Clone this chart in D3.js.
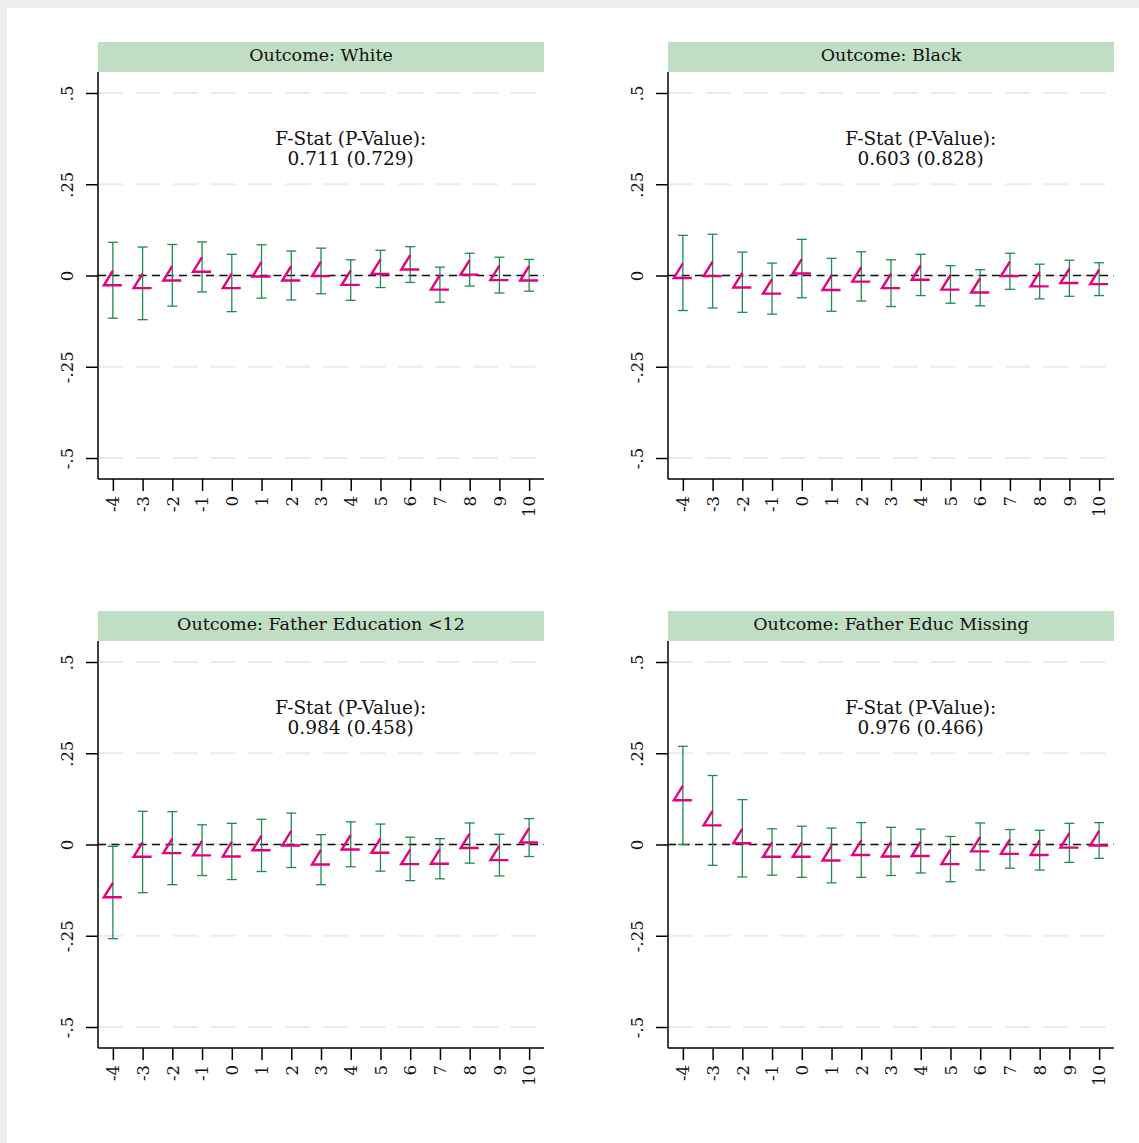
<!DOCTYPE html>
<html><head><meta charset="utf-8">
<script src="https://cdn.jsdelivr.net/npm/d3@7"></script>
<style>
html,body{margin:0;padding:0;background:#fff;}
svg{display:block;}
text{font-family:"DejaVu Serif","Liberation Serif",serif;fill:#111;}
</style></head><body>
<script>
// ---- data ----
const periods = [-4,-3,-2,-1,0,1,2,3,4,5,6,7,8,9,10];
const yTicks = [-0.5,-0.25,0,0.25,0.5];
const yTickLabels = ["-.5","-.25","0",".25",".5"];
const titles = ["Outcome: White","Outcome: Black","Outcome: Father Education <12","Outcome: Father Educ Missing"];
const fstatLabels = ["0.711 (0.729)","0.603 (0.828)","0.984 (0.458)","0.976 (0.466)"];

const whiteCoef = [-0.013,-0.021,0.000,0.024,-0.021,0.011,0.000,0.012,-0.012,0.018,0.030,-0.025,0.016,0.001,0.000];
const whiteLo   = [-0.117,-0.121,-0.084,-0.045,-0.099,-0.062,-0.067,-0.050,-0.068,-0.033,-0.019,-0.073,-0.029,-0.048,-0.043];
const whiteHi   = [0.091,0.078,0.085,0.092,0.058,0.084,0.067,0.075,0.043,0.069,0.079,0.023,0.061,0.050,0.044];

const blackCoef = [0.007,0.012,-0.019,-0.036,0.019,-0.026,-0.003,-0.021,0.002,-0.025,-0.033,0.012,-0.016,-0.007,-0.010];
const blackLo   = [-0.096,-0.089,-0.101,-0.106,-0.061,-0.098,-0.070,-0.085,-0.055,-0.076,-0.083,-0.038,-0.064,-0.057,-0.055];
const blackHi   = [0.110,0.113,0.064,0.034,0.099,0.047,0.065,0.043,0.058,0.027,0.016,0.061,0.031,0.042,0.035];

const fedCoef = [-0.131,-0.020,-0.010,-0.016,-0.019,-0.002,0.011,-0.041,0.000,-0.009,-0.040,-0.039,0.004,-0.029,0.019];
const fedLo   = [-0.258,-0.132,-0.110,-0.085,-0.096,-0.074,-0.063,-0.110,-0.061,-0.073,-0.099,-0.094,-0.051,-0.086,-0.033];
const fedHi   = [-0.005,0.091,0.090,0.054,0.058,0.069,0.086,0.027,0.062,0.056,0.020,0.016,0.059,0.028,0.071];

const fmisCoef = [0.135,0.066,0.017,-0.020,-0.020,-0.030,-0.015,-0.019,-0.018,-0.040,-0.005,-0.012,-0.015,0.005,0.011];
const fmisLo   = [0.000,-0.057,-0.089,-0.084,-0.090,-0.105,-0.090,-0.085,-0.078,-0.102,-0.070,-0.065,-0.070,-0.049,-0.038];
const fmisHi   = [0.269,0.189,0.123,0.043,0.050,0.045,0.060,0.047,0.042,0.022,0.059,0.041,0.039,0.058,0.060];

const panels = [
  {title:titles[0], f:fstatLabels[0], coef:whiteCoef, lo:whiteLo, hi:whiteHi},
  {title:titles[1], f:fstatLabels[1], coef:blackCoef, lo:blackLo, hi:blackHi},
  {title:titles[2], f:fstatLabels[2], coef:fedCoef, lo:fedLo, hi:fedHi},
  {title:titles[3], f:fstatLabels[3], coef:fmisCoef, lo:fmisLo, hi:fmisHi}
];

// ---- layout ----
const W = 1139, H = 1143;
const svg = d3.select("body").append("svg").attr("width",W).attr("height",H);
svg.append("rect").attr("width",W).attr("height",H).attr("fill","#efefef");
svg.append("rect").attr("x",7).attr("y",8).attr("width",W-7).attr("height",H-8).attr("fill","#fff");

const GREEN = "#1e8c4c", MAG = "#e6007e", HEAD = "#c0dec3";
const pw = 446, ph = 407;
const origins = [[98,72],[668,72],[98,641],[668,641]];

panels.forEach((p,i)=>{
  const [ox,oy] = origins[i];
  const g = svg.append("g").attr("transform",`translate(${ox},${oy})`);
  const x = d3.scaleLinear().domain([-4.5,10.5]).range([0,pw]);
  const y = d3.scaleLinear().domain([-0.5575,0.5575]).range([ph,0]);

  // header
  g.append("rect").attr("x",0).attr("y",-30).attr("width",pw).attr("height",30).attr("fill",HEAD);
  g.append("text").attr("x",pw/2).attr("y",-11).attr("text-anchor","middle")
    .style("font-size","17.5px").text(p.title);

  // gridlines
  g.append("g").selectAll("line").data(yTicks).join("line")
    .attr("x1",0).attr("x2",pw-8).attr("y1",d=>y(d)).attr("y2",d=>y(d))
    .attr("stroke","#ebebeb").attr("stroke-width",2).attr("stroke-dasharray","25,12.5");

  // zero reference
  g.append("line").attr("x1",0).attr("x2",pw).attr("y1",y(0)).attr("y2",y(0))
    .attr("stroke","#111").attr("stroke-width",1.5).attr("stroke-dasharray","8,5.5");

  // F stat text
  const ft = g.append("text").attr("x",x(4)).attr("y",y(0.375)+6).attr("text-anchor","middle").style("font-size","18.5px");
  ft.append("tspan").attr("x",x(4)).attr("dy",0).text("F-Stat (P-Value):");
  ft.append("tspan").attr("x",x(4)).attr("dy",20).text(p.f);

  // error bars
  const eb = g.append("g").attr("stroke",GREEN).attr("stroke-width",1.3).attr("fill","none");
  periods.forEach((t,j)=>{
    const cx = x(t);
    eb.append("line").attr("x1",cx).attr("x2",cx).attr("y1",y(p.lo[j])).attr("y2",y(p.hi[j]));
    eb.append("line").attr("x1",cx-5).attr("x2",cx+5).attr("y1",y(p.lo[j])).attr("y2",y(p.lo[j]));
    eb.append("line").attr("x1",cx-5).attr("x2",cx+5).attr("y1",y(p.hi[j])).attr("y2",y(p.hi[j]));
  });

  // markers
  g.append("g").selectAll("path").data(periods).join("path")
    .attr("d",(t,j)=>{const cx=x(t), cy=y(p.coef[j]);
      return `M${cx},${cy-9.5}L${cx-9},${cy+5}L${cx+9},${cy+5}`;})
    .attr("fill","none").attr("stroke",MAG).attr("stroke-width",2.4).attr("stroke-linejoin","miter");

  // axes
  const yAxis = d3.axisLeft(y).tickValues(yTicks).tickSize(12).tickFormat((d,k)=>yTickLabels[k]);
  const ya = g.append("g").call(yAxis);
  ya.select(".domain").attr("d",`M0,0V${ph}`).attr("stroke","#000").attr("stroke-width",1.5);
  ya.selectAll(".tick line").attr("stroke","#000").attr("stroke-width",1.5);
  ya.selectAll(".tick text").attr("x",0).attr("dy",0).attr("text-anchor","middle")
    .attr("transform","translate(-31,0) rotate(-90)").attr("dy","0.35em")
    .style("font-size","16.5px").style("font-family","'DejaVu Serif',serif");

  const xAxis = d3.axisBottom(x).tickValues(periods).tickSize(12).tickFormat(d=>String(d));
  const xa = g.append("g").attr("transform",`translate(0,${ph})`).call(xAxis);
  xa.select(".domain").attr("d",`M0,0H${pw}`).attr("stroke","#000").attr("stroke-width",1.5);
  xa.selectAll(".tick line").attr("stroke","#000").attr("stroke-width",1.5);
  xa.selectAll(".tick text").attr("x",0).attr("y",0).attr("dy","0.35em").attr("text-anchor","end")
    .attr("transform","translate(0,17) rotate(-90)")
    .style("font-size","16.5px").style("font-family","'DejaVu Serif',serif");
});
</script>
</body></html>
